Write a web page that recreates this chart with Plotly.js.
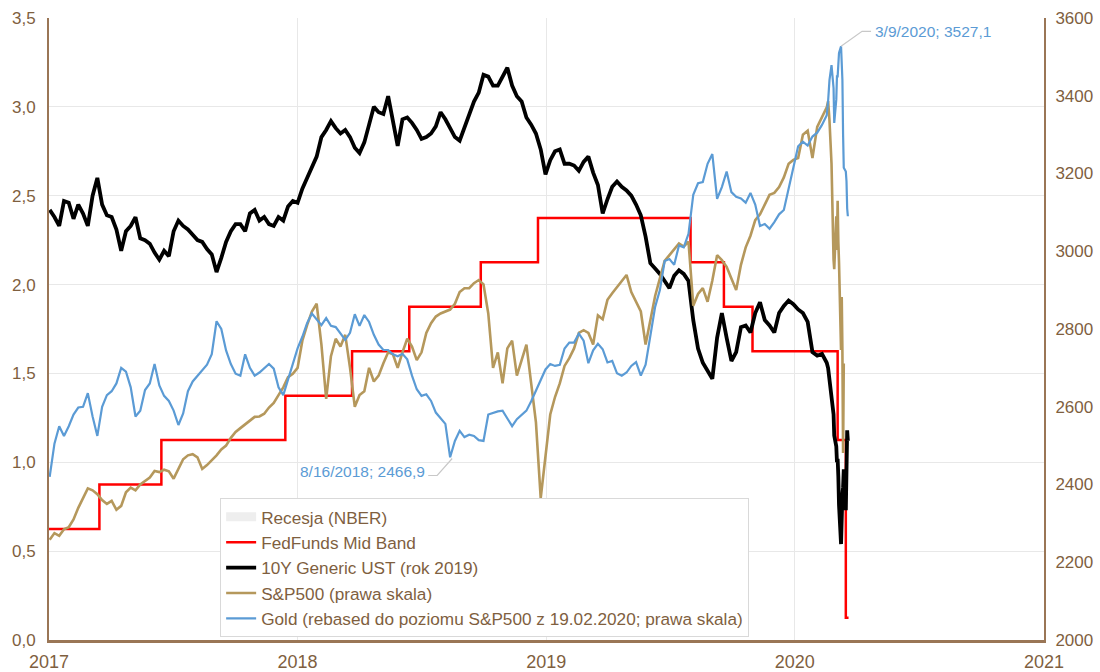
<!DOCTYPE html>
<html><head><meta charset="utf-8">
<script src="https://cdn.plot.ly/plotly-3.0.1.min.js"></script>
<style>html,body{margin:0;padding:0;background:#fff}#chart{width:1100px;height:672px}</style>
</head><body><div id="chart"></div>
<script>
const dates = [
'2017-01-02','2017-01-09','2017-01-16','2017-01-23','2017-01-30','2017-02-06','2017-02-13','2017-02-20','2017-02-27','2017-03-06',
'2017-03-13','2017-03-20','2017-03-27','2017-04-03','2017-04-10','2017-04-17','2017-04-24','2017-05-01','2017-05-08','2017-05-15',
'2017-05-22','2017-05-29','2017-06-05','2017-06-12','2017-06-19','2017-06-26','2017-07-03','2017-07-10','2017-07-17','2017-07-24',
'2017-07-31','2017-08-07','2017-08-14','2017-08-21','2017-08-28','2017-09-04','2017-09-11','2017-09-18','2017-09-25','2017-10-02',
'2017-10-09','2017-10-16','2017-10-23','2017-10-30','2017-11-06','2017-11-13','2017-11-20','2017-11-27','2017-12-04','2017-12-11',
'2017-12-18','2017-12-25',
'2018-01-01','2018-01-08','2018-01-15','2018-01-22','2018-01-29','2018-02-05','2018-02-12','2018-02-19','2018-02-26','2018-03-05',
'2018-03-12','2018-03-19','2018-03-26','2018-04-02','2018-04-09','2018-04-16','2018-04-23','2018-04-30','2018-05-07','2018-05-14',
'2018-05-21','2018-05-28','2018-06-04','2018-06-11','2018-06-18','2018-06-25','2018-07-02','2018-07-09','2018-07-16','2018-07-23',
'2018-07-30','2018-08-06','2018-08-13','2018-08-20','2018-08-27','2018-09-03','2018-09-10','2018-09-17','2018-09-24','2018-10-01',
'2018-10-08','2018-10-15','2018-10-22','2018-10-29','2018-11-05','2018-11-12','2018-11-19','2018-11-26','2018-12-03','2018-12-10',
'2018-12-17','2018-12-24','2018-12-31',
'2019-01-07','2019-01-14','2019-01-21','2019-01-28','2019-02-04','2019-02-11','2019-02-18','2019-02-25','2019-03-04','2019-03-11',
'2019-03-18','2019-03-25','2019-04-01','2019-04-08','2019-04-15','2019-04-22','2019-04-29','2019-05-06','2019-05-13','2019-05-20',
'2019-05-27','2019-06-03','2019-06-10','2019-06-17','2019-06-24','2019-07-01','2019-07-08','2019-07-15','2019-07-22','2019-07-29',
'2019-08-05','2019-08-12','2019-08-19','2019-08-26','2019-09-02','2019-09-09','2019-09-16','2019-09-23','2019-09-30','2019-10-07',
'2019-10-14','2019-10-21','2019-10-28','2019-11-04','2019-11-11','2019-11-18','2019-11-25','2019-12-02','2019-12-09','2019-12-16',
'2019-12-23','2019-12-30',
'2020-01-06','2020-01-13','2020-01-20','2020-01-27','2020-02-03','2020-02-10','2020-02-17',
'2020-02-19','2020-02-21','2020-02-24','2020-02-25','2020-02-26','2020-02-27','2020-02-28','2020-03-02','2020-03-03','2020-03-04',
'2020-03-05','2020-03-06','2020-03-09','2020-03-10','2020-03-11','2020-03-12','2020-03-13','2020-03-16','2020-03-17','2020-03-18',
'2020-03-19'
];

// 10Y Generic UST (left axis, %)
const ust10y = [
2.42,2.38,2.33,2.47,2.46,2.37,2.45,2.40,2.33,2.50,
2.60,2.45,2.39,2.38,2.31,2.19,2.30,2.33,2.38,2.26,
2.25,2.23,2.18,2.14,2.19,2.16,2.30,2.36,2.33,2.31,
2.28,2.25,2.24,2.20,2.17,2.07,2.15,2.24,2.30,2.34,
2.34,2.30,2.40,2.42,2.36,2.38,2.34,2.33,2.38,2.36,
2.44,2.47,
2.46,2.54,2.60,2.66,2.72,2.83,2.87,2.92,2.88,2.85,
2.87,2.83,2.77,2.74,2.80,2.90,3.00,2.97,2.96,3.06,
2.92,2.78,2.93,2.94,2.91,2.87,2.82,2.83,2.85,2.89,
2.97,2.93,2.88,2.83,2.81,2.88,2.96,3.03,3.08,3.18,
3.17,3.12,3.12,3.17,3.22,3.12,3.06,3.03,2.94,2.90,
2.85,2.76,2.62,
2.70,2.75,2.76,2.68,2.68,2.67,2.64,2.69,2.72,2.63,
2.56,2.40,2.48,2.55,2.58,2.55,2.53,2.50,2.45,2.39,
2.27,2.12,2.09,2.06,2.02,1.98,2.05,2.08,2.06,2.02,
1.80,1.64,1.56,1.51,1.47,1.70,1.84,1.70,1.57,1.62,
1.76,1.77,1.73,1.84,1.90,1.80,1.77,1.73,1.84,1.88,
1.91,1.89,
1.86,1.84,1.79,1.62,1.60,1.61,1.56,
1.53,1.47,1.37,1.33,1.31,1.27,1.15,1.09,1.00,1.02,
0.92,0.76,0.54,0.76,0.82,0.86,0.96,0.73,1.08,1.18,
1.12
];

// S&P500 (right axis)
const sp500 = [
2258,2275,2268,2285,2290,2310,2340,2365,2390,2385,
2375,2360,2350,2358,2335,2345,2380,2392,2385,2400,
2410,2418,2435,2432,2438,2434,2415,2440,2465,2475,
2478,2470,2440,2450,2462,2475,2490,2500,2520,2535,
2545,2555,2565,2574,2575,2582,2598,2610,2630,2650,
2676,2685,
2700,2770,2810,2845,2865,2760,2620,2730,2775,2755,
2785,2700,2600,2630,2640,2700,2665,2680,2712,2740,
2735,2700,2740,2775,2755,2720,2740,2790,2815,2832,
2840,2845,2850,2865,2895,2905,2905,2918,2926,2915,
2840,2700,2740,2660,2750,2770,2680,2720,2760,2660,
2560,2365,2480,
2580,2625,2660,2705,2725,2750,2790,2797,2790,2760,
2835,2825,2875,2892,2908,2926,2939,2895,2870,2845,
2760,2820,2885,2930,2975,2990,3005,3020,3012,3025,
2860,2890,2905,2870,2925,2990,2977,2960,2930,2900,
2965,3010,3040,3080,3095,3120,3145,3150,3165,3190,
3225,3235,
3240,3300,3310,3240,3320,3345,3370,
3386,3337,3225,3128,3116,2979,2954,3090,3003,3130,
3024,2972,2746,2882,2741,2481,2711,null,null,null,
null
];

// Gold rebased to S&P500 level of 19.02.2020 (right axis)
const goldRebased = [
2420,2505,2550,2525,2550,2580,2598,2600,2635,2575,
2525,2600,2630,2640,2660,2700,2690,2650,2575,2590,
2643,2660,2710,2655,2628,2615,2590,2553,2583,2640,
2665,2680,2695,2708,2735,2820,2800,2745,2710,2685,
2680,2735,2700,2680,2688,2700,2710,2698,2650,2630,
2670,2710,
2750,2780,2815,2840,2825,2810,2828,2808,2805,2790,
2772,2790,2838,2808,2836,2818,2785,2760,2746,2746,
2735,2730,2736,2722,2680,2645,2628,2632,2615,2585,
2570,2556,2470,2512,2538,2522,2528,2525,2514,2512,
2580,2585,2588,2590,2570,2550,2568,2578,2590,2614,
2640,2668,2696,
2710,2705,2708,2750,2765,2765,2788,2770,2712,2745,
2762,2748,2714,2718,2686,2680,2688,2705,2715,2680,
2708,2780,2857,2900,2975,2980,2965,3015,3010,3045,
3145,3175,3178,3225,3250,3135,3165,3205,3152,3140,
3136,3125,3150,3120,3065,3070,3058,3075,3095,3106,
3160,3220,
3270,3282,3272,3295,3305,3325,3350,
3386,3440,3479,3450,3440,3420,3330,3390,3450,3450,
3480,3510,3527.1,3470,3440,3300,3215,3205,3180,3110,
3090
];

// FedFunds mid band (left axis, step changes)
const fedDates = ['2017-01-01','2017-03-16','2017-06-15','2017-12-14','2018-03-22','2018-06-14','2018-09-27','2018-12-20','2019-08-01','2019-09-19','2019-10-31','2020-03-04','2020-03-16','2020-03-20'];
const fedMid = [0.625,0.875,1.125,1.375,1.625,1.875,2.125,2.375,2.125,1.875,1.625,1.125,0.125,0.125];

const seriesNames = ['Recesja (NBER)','FedFunds Mid Band','10Y Generic UST (rok 2019)','S&P500 (prawa skala)','Gold (rebased do poziomu S&P500 z 19.02.2020; prawa skala)'];
const leftTicks = [0,0.5,1,1.5,2,2.5,3,3.5];
const rightTicks = [2000,2200,2400,2600,2800,3000,3200,3400,3600];
const yearTicks = ['2017-01-01','2018-01-01','2019-01-01','2020-01-01','2021-01-01'];
const yearLabels = ['2017','2018','2019','2020','2021'];
const annotPeak = {date:'2020-03-09', value:3527.1, text:'3/9/2020; 3527,1'};
const annotLow = {date:'2018-08-16', value:2466.9, text:'8/16/2018; 2466,9'};

const brown = '#7f5f3f';
const axisBrown = '#9a7656';
const leaderGray = '#c8c8c8';
const FONT = '"Liberation Sans", Arial, sans-serif';

const traces = [
  {x:[null], y:[null], type:'scatter', mode:'lines', name:seriesNames[0], legendgroup:'g0',
   line:{color:'#eeeeee', width:9}, yaxis:'y', hoverinfo:'skip'},
  {x:fedDates, y:fedMid, type:'scatter', mode:'lines', name:seriesNames[1], legendgroup:'g1',
   line:{color:'#ff0000', width:2.5, shape:'hv'}, yaxis:'y'},
  {x:dates, y:ust10y, type:'scatter', mode:'lines', name:seriesNames[2], legendgroup:'g2',
   line:{color:'#000000', width:3.8}, yaxis:'y'},
  {x:dates, y:sp500, type:'scatter', mode:'lines', name:seriesNames[3], legendgroup:'g3',
   line:{color:'#b5985c', width:2.6}, yaxis:'y2'},
  {x:dates, y:goldRebased, type:'scatter', mode:'lines', name:seriesNames[4], legendgroup:'g4',
   line:{color:'#5b9bd5', width:2.2}, yaxis:'y2'}
];

const layout = {
  width:1100, height:672,
  margin:{l:49, r:56, t:18, b:32, autoexpand:false},
  paper_bgcolor:'#ffffff', plot_bgcolor:'#ffffff',
  separators:', ',
  font:{family:FONT, color:brown, size:15},
  showlegend:true,
  legend:{x:0.172, y:0.228, xanchor:'left', yanchor:'top', bgcolor:'#ffffff',
          bordercolor:'#d9d9d9', borderwidth:1, tracegroupgap:5,
          font:{family:FONT, color:brown, size:17.2}, traceorder:'normal'},
  xaxis:{type:'date', range:['2017-01-01','2021-01-01'], tickmode:'array', tickvals:yearTicks, ticktext:yearLabels,
         showgrid:true, gridcolor:'#e8e8e8', gridwidth:1, showline:true, linecolor:axisBrown, linewidth:2.5,
         ticks:'', tickfont:{family:FONT, size:18, color:brown}, ticklabelstandoff:4, zeroline:false, automargin:false},
  yaxis:{range:[0,3.5], tickmode:'array', tickvals:leftTicks, tickformat:'.1f', showgrid:true, gridcolor:'#e8e8e8',
         gridwidth:1, showline:true, linecolor:axisBrown, linewidth:2, ticks:'', zeroline:false,
         tickfont:{family:FONT, size:17, color:brown}, ticklabelstandoff:8, automargin:false},
  yaxis2:{range:[2000,3600], tickmode:'array', tickvals:rightTicks, tickformat:'d', overlaying:'y', side:'right',
          showgrid:false, showline:true, linecolor:axisBrown, linewidth:2, ticks:'', zeroline:false,
          tickfont:{family:FONT, size:17, color:brown}, ticklabelstandoff:6, automargin:false},
  shapes:[
    {type:'path', xref:'x', yref:'y2', xsizemode:'pixel', ysizemode:'pixel',
     xanchor:annotPeak.date, yanchor:annotPeak.value, path:'M0,0L21,15L30,15',
     line:{color:leaderGray, width:1.2}},
    {type:'path', xref:'x', yref:'y2', xsizemode:'pixel', ysizemode:'pixel',
     xanchor:annotLow.date, yanchor:annotLow.value, path:'M0,0L-15,-17L-24,-17',
     line:{color:leaderGray, width:1.2}}
  ],
  annotations:[
    {x:annotPeak.date, y:annotPeak.value, xref:'x', yref:'y2', text:annotPeak.text, showarrow:false,
     xanchor:'left', yanchor:'middle', xshift:32, yshift:15,
     font:{family:FONT, size:15.5, color:'#5b9bd5'}},
    {x:annotLow.date, y:annotLow.value, xref:'x', yref:'y2', text:annotLow.text, showarrow:false,
     xanchor:'right', yanchor:'middle', xshift:-25, yshift:-13,
     font:{family:FONT, size:15.5, color:'#5b9bd5'}}
  ]
};

Plotly.newPlot('chart', traces, layout, {displayModeBar:false, staticPlot:true});
</script>
</body></html>
